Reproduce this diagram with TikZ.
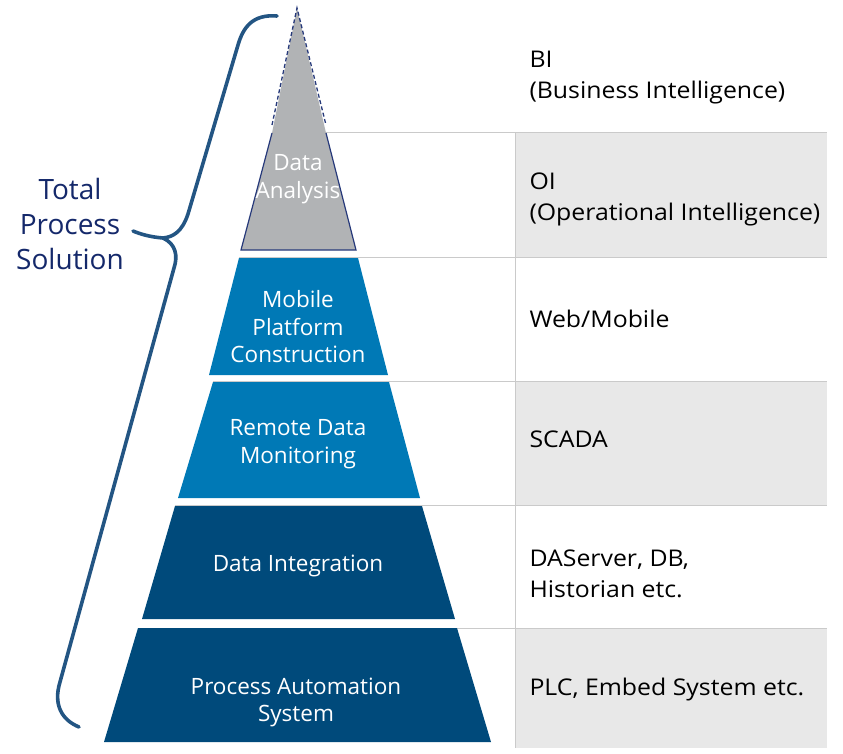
\documentclass[tikz,border=0pt]{standalone}
\usepackage{fontspec}
\setmainfont{Open Sans}
\newfontfamily\sidefont[FakeStretch=1.08]{Open Sans}
\definecolor{rowgray}{HTML}{E8E8E8}
\definecolor{sepgray}{HTML}{CACACA}
\definecolor{peakgray}{HTML}{B1B3B5}
\definecolor{midblue}{HTML}{0079B6}
\definecolor{deepblue}{HTML}{004A7B}
\definecolor{edgenavy}{HTML}{26397A}
\definecolor{bracecol}{HTML}{235583}
\definecolor{titlenavy}{HTML}{14286A}
\begin{document}
\begin{tikzpicture}[x=1pt,y=-1pt,
  sep/.style={draw=sepgray,line width=1pt},
  layertext/.style={text=white,align=center,font=\fontsize{22.5}{27.5}\selectfont},
  sidetext/.style={anchor=west,align=left,text=black,font=\sidefont\fontsize{23}{31}\selectfont},
  titletext/.style={text=titlenavy,align=center,font=\fontsize{28}{35}\selectfont}]
\useasboundingbox (0,0) rectangle (843,754);

% right-hand table: shaded rows, column rule and row rules
\fill[rowgray] (515,133) rectangle (827,257);
\fill[rowgray] (515,381) rectangle (827,505);
\fill[rowgray] (515,628) rectangle (827,748);
\draw[sep] (515,133) -- (515,748);
\draw[sep] (326,133) -- (827,133);
\draw[sep] (239,257) -- (827,257);
\draw[sep] (213,381) -- (827,381);
\draw[sep] (175,505) -- (827,505);
\draw[sep] (138,628) -- (827,628);

% pyramid: grey peak with dashed tip
\fill[peakgray] (297,8) -- (272,133) -- (241,250) -- (356,250) -- (326,133) -- cycle;
\draw[edgenavy,line width=1.3pt,dash pattern=on 4pt off 2.5pt] (272,125) -- (297,8) -- (326,125);
\draw[edgenavy,line width=1.2pt] (272,133) -- (241,250) -- (356,250) -- (326,133);

% pyramid: lower layers
\fill[midblue] (239,258) -- (358,258) -- (388,375) -- (209,375) -- cycle;
\fill[midblue] (213,382) -- (389,382) -- (420,498) -- (178,498) -- cycle;
\fill[deepblue] (175,506) -- (422,506) -- (455,619) -- (142,619) -- cycle;
\fill[deepblue] (138,628) -- (457,628) -- (491,742) -- (104,742) -- cycle;

% layer labels
\node[layertext] (analysis) at (298,179) {Data\\Analysis};
\node[layertext] (mobile) at (298,327) {Mobile\\Platform\\Construction};
\node[layertext] (remote) at (298,444) {Remote Data\\Monitoring};
\node[layertext] (integ) at (298,566) {Data Integration};
\node[layertext] (automation) at (296,702.5) {Process Automation\\System};

% table labels
\node[sidetext] (bi) at (526,78) {BI\\(Business Intelligence)};
\node[sidetext] (oi) at (526,199) {OI\\(Operational Intelligence)};
\node[sidetext] (web) at (526,319) {Web/Mobile};
\node[sidetext] (scada) at (526,439) {SCADA};
\node[sidetext] (daserver) at (526,574) {DAServer, DB,\\Historian etc.};
\node[sidetext] (plc) at (526,690) {PLC, Embed System etc.};

% curly brace spanning the pyramid
\draw[bracecol,line width=3.6pt,line cap=round]
  (277,16) .. controls (252,14) and (243,28) .. (238,45)
  -- (188,214) .. controls (182,232) and (173,237) .. (163,238)
  .. controls (150,237) and (140,234) .. (133,231);
\draw[bracecol,line width=3.6pt,line cap=round]
  (163,238) .. controls (176,244) and (178,256) .. (174,268)
  -- (60,682) .. controls (53,705) and (62,720) .. (79,727);

% brace caption
\node[titletext] (total) at (70,224) {Total\\Process\\Solution};
\end{tikzpicture}
\end{document}
